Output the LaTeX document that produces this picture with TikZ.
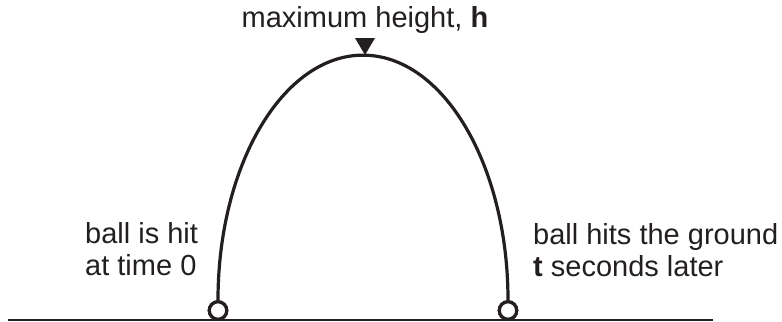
\documentclass[tikz,border=0pt]{standalone}
\usepackage{fontspec}
\setmainfont{Liberation Sans}
\definecolor{ink}{HTML}{231F20}
\begin{document}
\begin{tikzpicture}[x=1bp,y=1bp,
  lbl/.style={inner sep=0pt, text=ink, align=left, font=\fontsize{29bp}{32bp}\selectfont},
  ballmark/.style={circle, draw=ink, fill=white, line width=3.2bp, minimum size=17.5bp, inner sep=0pt},
  traj/.style={draw=ink, line width=3.2bp}]
\useasboundingbox (0,0) rectangle (782,321);
% ground
\coordinate (g0) at (8,1);
\coordinate (g1) at (713,1);
\draw[ink, line width=2.4bp] (g0) -- (g1);
% ball positions
\node[ballmark] (start) at (218,10.5) {};
\node[ballmark] (end) at (508,10.5) {};
% trajectory (half ellipse)
\draw[traj] (start.north) arc[start angle=180, end angle=0, x radius=145, y radius=245];
\node[ballmark] at (start) {};
\node[ballmark] at (end) {};
% apex marker
\coordinate (tip) at (365,266);
\fill[ink] (tip) -- ++(-10,17) -- ++(20,0) -- cycle;
% labels
\node[lbl, anchor=base] (top) at (365,294) {maximum height, \textbf{h}};
\node[lbl, anchor=base west] (left) at (85,46) {ball is hit\\at time 0};
\node[lbl, anchor=base west] (right) at (533,45) {ball hits the ground\\\textbf{t} seconds later};
\end{tikzpicture}
\end{document}
